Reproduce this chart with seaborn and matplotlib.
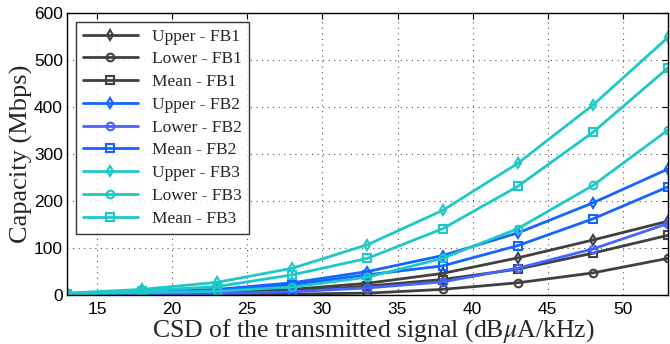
import matplotlib
matplotlib.use("Agg")
import matplotlib.pyplot as plt
import seaborn as sns
import numpy as np

# Transmitted signal CSD (dBuA/kHz)
csd = [13, 18, 23, 28, 33, 38, 43, 48, 53]

# Capacity (Mbps) per frequency band
upper_fb1 = [2, 4, 7, 12, 25, 46, 79, 117, 157]
lower_fb1 = [1, 1, 2, 2, 4, 12, 26, 47, 78]
mean_fb1 = [1, 2, 4, 8, 19, 33, 55, 89, 127]
upper_fb2 = [3, 6, 12, 26, 50, 84, 132, 196, 268]
lower_fb2 = [1, 2, 3, 7, 15, 28, 57, 98, 152]
mean_fb2 = [2, 5, 9, 22, 43, 62, 105, 162, 230]
upper_fb3 = [4, 12, 27, 57, 107, 180, 280, 404, 548]
lower_fb3 = [2, 5, 8, 17, 38, 78, 141, 233, 351]
mean_fb3 = [3, 9, 18, 43, 78, 141, 231, 346, 483]

labels = ["Upper - FB1", "Lower - FB1", "Mean - FB1",
          "Upper - FB2", "Lower - FB2", "Mean - FB2",
          "Upper - FB3", "Lower - FB3", "Mean - FB3"]
series = [upper_fb1, lower_fb1, mean_fb1,
          upper_fb2, lower_fb2, mean_fb2,
          upper_fb3, lower_fb3, mean_fb3]
colors = ["#404040", "#404040", "#404040",
          "#1464ff", "#4664ff", "#1464ff",
          "#1ec8c8", "#1ec8c8", "#1ec8c8"]
markers = ["d", "o", "s"] * 3

sns.set_style("white")
plt.rcParams["mathtext.fontset"] = "stix"

fig = plt.figure(figsize=(6.7, 3.44), dpi=100)
ax = fig.add_axes([0.1, 0.1424, 0.897, 0.82])

for y, lab, c, m in zip(series, labels, colors, markers):
    sns.lineplot(x=csd, y=y, ax=ax, color=c, marker=m, label=lab,
                 linewidth=2, markersize=5.5, markerfacecolor="none",
                 markeredgecolor=c, markeredgewidth=1.5)

ax.set_xlim(13, 53)
ax.set_ylim(0, 600)
ax.set_xticks([15, 20, 25, 30, 35, 40, 45, 50])
ax.set_yticks([0, 100, 200, 300, 400, 500, 600])
ax.tick_params(direction="in", length=4, top=True, right=True,
               labelsize=12.5, width=0.8, colors="black", pad=5)
for lbl in ax.get_xticklabels() + ax.get_yticklabels():
    lbl.set_family("Liberation Sans")
ax.tick_params(axis="y", pad=3)
ax.grid(True, linestyle=(0, (1, 4)), color="#555555", linewidth=0.8)
for s in ax.spines.values():
    s.set_color("black")
    s.set_linewidth(1.0)

ax.set_xlabel(r"CSD of the transmitted signal (dB$\mu$A/kHz)",
              family="Liberation Serif", fontsize=18.5)
ax.set_ylabel("Capacity (Mbps)", family="Liberation Serif", fontsize=19)
ax.xaxis.set_label_coords(0.51, -0.078)
ax.yaxis.set_label_coords(-0.056, 0.5)

leg = ax.legend(loc="upper left", prop={"family": "Liberation Serif", "size": 12.5},
                frameon=True, fancybox=False, edgecolor="black",
                handlelength=3.2, borderpad=0.4, labelspacing=0.38,
                bbox_to_anchor=(0.0, 1.0))
leg.get_frame().set_linewidth(1.0)

fig.savefig("out.png", dpi=100)
